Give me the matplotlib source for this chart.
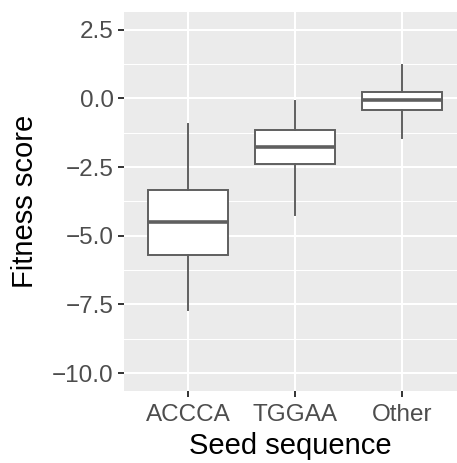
import matplotlib
matplotlib.use("Agg")
import matplotlib.pyplot as plt
import numpy as np

categories = ["ACCCA", "TGGAA", "Other"]
whisker_low = [-7.71, -4.25, -1.43]
q1 = [-5.71, -2.40, -0.44]
median = [-4.51, -1.79, -0.05]
q3 = [-3.33, -1.16, 0.23]
whisker_high = [-0.945, -0.11, 1.20]

yticks = [2.5, 0.0, -2.5, -5.0, -7.5, -10.0]
ytick_labels = ["2.5", "0.0", "\u22122.5", "\u22125.0", "\u22127.5", "\u221210.0"]

plt.rcParams['font.family'] = ['Liberation Sans', 'DejaVu Sans']

fig = plt.figure(figsize=(4.57, 4.63), dpi=100)
ax = fig.add_axes([124/457, 72/463, 1 - 124/457, (391-12)/463])
ax.set_facecolor('#EBEBEB')

stats = []
for i, c in enumerate(categories):
    stats.append(dict(label=c, whislo=whisker_low[i], q1=q1[i], med=median[i],
                      q3=q3[i], whishi=whisker_high[i], fliers=[]))
positions = np.arange(1, len(categories) + 1)
ax.bxp(stats, positions=positions, widths=0.75, patch_artist=True, showcaps=False,
       boxprops=dict(facecolor='white', edgecolor='#5f5f5f', linewidth=1.4),
       whiskerprops=dict(color='#5f5f5f', linewidth=1.4),
       medianprops=dict(color='#5f5f5f', linewidth=2.6),
       zorder=3)

ax.set_xlim(0.4, 3.514)
ax.set_ylim(-10.65, 3.14)

ax.set_yticks(yticks)
ax.set_yticklabels(ytick_labels)
ax.set_yticks([1.25, -1.25, -3.75, -6.25, -8.75], minor=True)
ax.set_xticks(positions)
ax.set_xticklabels(categories)

ax.grid(which='major', color='white', linewidth=1.5, zorder=0)
ax.grid(which='minor', axis='y', color='white', linewidth=0.75, zorder=0)
ax.set_axisbelow(True)
for s in ax.spines.values():
    s.set_visible(False)

ax.tick_params(axis='both', which='major', length=4.5, width=1.4, color='#333333',
               labelcolor='#4D4D4D', labelsize=17.5, pad=3)
ax.tick_params(axis='x', which='major', pad=5)
ax.tick_params(axis='y', which='minor', length=0)

ax.set_xlabel("Seed sequence", fontsize=21, color='black', labelpad=4)
ax.set_ylabel("Fitness score", fontsize=21, color='black', labelpad=9)

fig.savefig("out.png", dpi=100)
